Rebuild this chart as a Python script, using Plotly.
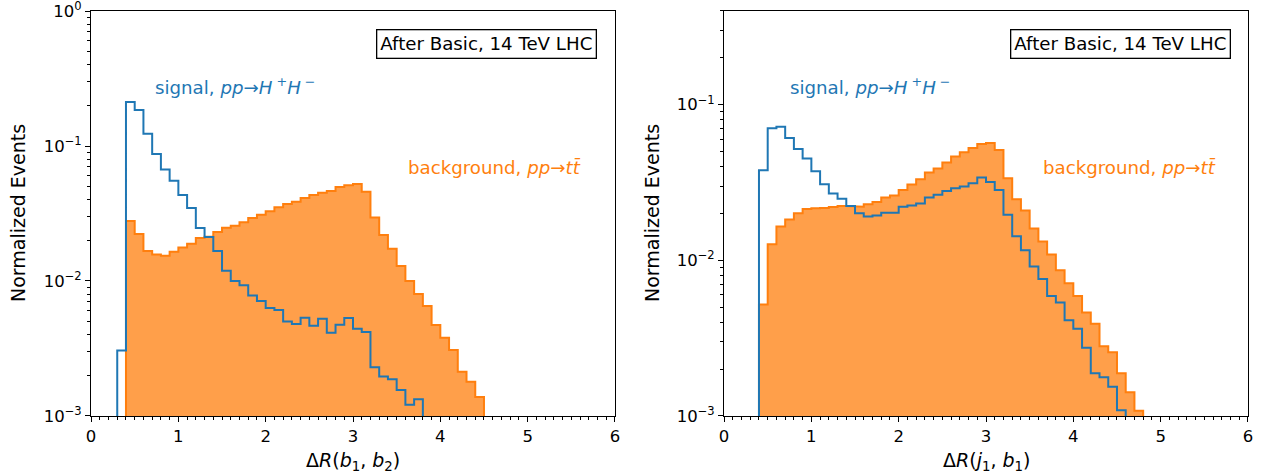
import plotly.graph_objects as go

W, H = 1265, 474
BIN_W = 0.1

# ---- Left panel: Delta R(b1, b2) ----
sig_bb_start = 0.3
sig_bb = [0.00305, 0.212, 0.185, 0.123, 0.0873, 0.0671, 0.0553, 0.0434, 0.0347, 0.0247,
          0.0212, 0.0167, 0.0119, 0.0100, 0.0093, 0.0078, 0.0071, 0.0063, 0.0061, 0.0050,
          0.0048, 0.00535, 0.00466, 0.00525, 0.00414, 0.00475, 0.00532, 0.00443, 0.00419, 0.0023,
          0.00196, 0.00187, 0.00156, 0.00121, 0.00133]
bkg_bb_start = 0.4
bkg_bb = [0.0278, 0.0223, 0.0167, 0.0157, 0.0154, 0.0165, 0.0177, 0.0189, 0.0208, 0.0213,
          0.0231, 0.0248, 0.0257, 0.0272, 0.0293, 0.0310, 0.0328, 0.0352, 0.0372, 0.0387,
          0.0412, 0.0434, 0.0451, 0.0464, 0.0497, 0.0511, 0.0523, 0.0458, 0.0295, 0.0219,
          0.0173, 0.0129, 0.0100, 0.0080, 0.00653, 0.00472, 0.0038, 0.00308, 0.00213, 0.00179,
          0.00138]

# ---- Right panel: Delta R(j1, b1) ----
sig_jb_start = 0.4
sig_jb = [0.0379, 0.0707, 0.0721, 0.0611, 0.0519, 0.0451, 0.0374, 0.0308, 0.0269, 0.0249,
          0.0223, 0.0201, 0.0191, 0.0194, 0.0202, 0.0202, 0.0221, 0.0225, 0.0232, 0.0253,
          0.0264, 0.0279, 0.0290, 0.0298, 0.0313, 0.0340, 0.0319, 0.0283, 0.0196, 0.0143,
          0.0116, 0.00912, 0.00759, 0.00591, 0.00536, 0.00412, 0.00364, 0.00274, 0.00188, 0.00177,
          0.00154, 0.00109]
bkg_jb_start = 0.4
bkg_jb = [0.00521, 0.0127, 0.0165, 0.0183, 0.0201, 0.0214, 0.0216, 0.0217, 0.0220, 0.0223,
          0.0223, 0.0221, 0.0229, 0.0237, 0.0253, 0.0261, 0.0283, 0.0307, 0.0332, 0.0367,
          0.0389, 0.0425, 0.0465, 0.0494, 0.0527, 0.0560, 0.0568, 0.0512, 0.0337, 0.0247,
          0.0209, 0.0160, 0.0132, 0.0109, 0.00865, 0.00713, 0.00591, 0.00462, 0.00392, 0.00281,
          0.00257, 0.00188, 0.00142, 0.00108]

x_ticks = [0, 1, 2, 3, 4, 5, 6]
y_ticks_left = [1e-3, 1e-2, 1e-1, 1]
y_text_left = ["10<sup>−3</sup>", "10<sup>−2</sup>", "10<sup>−1</sup>", "10<sup>0</sup>"]
y_ticks_right = [1e-3, 1e-2, 1e-1]
y_text_right = ["10<sup>−3</sup>", "10<sup>−2</sup>", "10<sup>−1</sup>"]

BLUE = "#1f77b4"
ORANGE = "#ff7f0e"
FILL = "rgba(255,127,14,0.75)"
FONT = "DejaVu Sans"
TICK_SIZE = 16.5
LABEL_SIZE = 19
ANN_SIZE = 18.2


def step_path(start, vals, width=BIN_W, floor=1e-7):
    n = len(vals)
    edges = [round(start + i * width, 6) for i in range(n + 1)]
    xs, ys = [edges[0]], [floor]
    for i, v in enumerate(vals):
        xs += [edges[i], edges[i + 1]]
        ys += [v, v]
    xs.append(edges[-1])
    ys.append(floor)
    return xs, ys


fig = go.Figure()


def add_panel(sig_start, sig, bkg_start, bkg, xa, ya):
    bx, by = step_path(bkg_start, bkg)
    fig.add_trace(go.Scatter(x=bx, y=by, mode="lines", fill="toself", fillcolor=FILL,
                             line=dict(color=ORANGE, width=2), xaxis=xa, yaxis=ya,
                             showlegend=False, hoverinfo="skip"))
    sx, sy = step_path(sig_start, sig)
    fig.add_trace(go.Scatter(x=sx, y=sy, mode="lines",
                             line=dict(color=BLUE, width=2), xaxis=xa, yaxis=ya,
                             showlegend=False, hoverinfo="skip"))


add_panel(sig_bb_start, sig_bb, bkg_bb_start, bkg_bb, "x", "y")
add_panel(sig_jb_start, sig_jb, bkg_jb_start, bkg_jb, "x2", "y2")

minor_x = [round(i * 0.1, 2) for i in range(61) if i % 10 != 0]
minor_y = [m * 10 ** e for e in (-3, -2, -1) for m in range(2, 10)]

ydom = [1 - 416 / H, 1 - 11 / H]


def xaxis_cfg(dom):
    return dict(domain=dom, range=[-0.0005, 6.0005], tickmode="array", tickvals=x_ticks,
                ticks="outside", ticklen=5, tickwidth=1, tickcolor="black",
                showline=True, linecolor="black", linewidth=1, mirror=True,
                showgrid=False, zeroline=False, automargin=False,
                ticklabeloverflow="allow",
                tickfont=dict(family=FONT, size=TICK_SIZE, color="black"),
                minor=dict(tickmode="array", tickvals=minor_x, ticks="outside",
                           ticklen=3, tickwidth=0.8, tickcolor="black", showgrid=False))


def yaxis_cfg(anchor, rng, tv, tt):
    return dict(domain=ydom, type="log", range=rng, anchor=anchor, tickmode="array",
                tickvals=tv, ticktext=tt, ticks="outside", ticklen=5, tickwidth=1,
                tickcolor="black", showline=True, linecolor="black", linewidth=1,
                mirror=True, showgrid=False, zeroline=False, automargin=False,
                ticklabeloverflow="allow",
                tickfont=dict(family=FONT, size=TICK_SIZE, color="black"),
                minor=dict(tickmode="array", tickvals=minor_y, ticks="outside",
                           ticklen=3, tickwidth=0.8, tickcolor="black", showgrid=False))


fig.update_layout(
    width=W, height=H, autosize=False,
    margin=dict(l=0, r=0, t=0, b=0, autoexpand=False),
    paper_bgcolor="white", plot_bgcolor="white",
    font=dict(family=FONT, color="black"),
    xaxis=xaxis_cfg([91 / W, 615 / W]) | dict(anchor="y"),
    yaxis=yaxis_cfg("x", [-3.0002, 0.0002], y_ticks_left, y_text_left),
    xaxis2=xaxis_cfg([724 / W, 1248 / W]) | dict(anchor="y2"),
    yaxis2=yaxis_cfg("x2", [-3.0002, -0.398], y_ticks_right, y_text_right),
)


def ann(x, y, text, size=ANN_SIZE, color="black", **kw):
    fig.add_annotation(x=x / W, y=1 - y / H, xref="paper", yref="paper", text=text,
                       showarrow=False, font=dict(family=FONT, size=size, color=color), **kw)


for (cx, sx, bxp) in [(486, 153, 406), (1120, 788, 1041)]:
    ann(cx, 43.5, "After Basic, 14 TeV LHC", xanchor="center", yanchor="middle",
        bordercolor="black", borderwidth=1.3, borderpad=3, bgcolor="white")
    ann(sx, 86, "signal, <i>pp</i>→<i>H</i><sup> +</sup><i>H</i><sup> −</sup>",
        color=BLUE, xanchor="left", yanchor="middle")
    ann(bxp, 167, "background, <i>pp</i>→<i>t</i><i>t̄</i>",
        color=ORANGE, xanchor="left", yanchor="middle")

ann(18, 213, "Normalized Events", size=LABEL_SIZE, textangle=-90,
    xanchor="center", yanchor="middle")
ann(652, 213, "Normalized Events", size=LABEL_SIZE, textangle=-90,
    xanchor="center", yanchor="middle")
ann(353, 461, "Δ<i>R</i>(<i>b</i><sub>1</sub>, <i>b</i><sub>2</sub>)", size=LABEL_SIZE,
    xanchor="center", yanchor="middle")
ann(986, 461, "Δ<i>R</i>(<i>j</i><sub>1</sub>, <i>b</i><sub>1</sub>)", size=LABEL_SIZE,
    xanchor="center", yanchor="middle")

fig.write_html("out.html", config={"displayModeBar": False},
               post_script="document.body.style.margin='0';document.body.style.overflow='hidden';")
